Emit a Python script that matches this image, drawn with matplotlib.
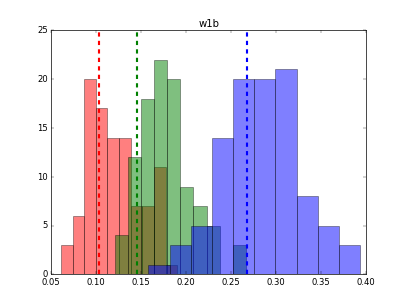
import numpy as np
import matplotlib
matplotlib.use("Agg")
import matplotlib.pyplot as plt

plt.style.use("classic")

# bin edges and counts (10 bins per group, 100 samples each)
red_edges = [0.0611, 0.0740, 0.0869, 0.0998, 0.1127, 0.1256, 0.1385, 0.1514, 0.1643, 0.1772, 0.1901]
red_counts = [3, 6, 20, 17, 14, 14, 7, 7, 11, 1]

green_edges = [0.1208, 0.1354, 0.1499, 0.1645, 0.1790, 0.1936, 0.2081, 0.2227, 0.2372, 0.2518, 0.2663]
green_counts = [4, 12, 18, 22, 20, 9, 7, 5, 0, 3]

blue_edges = [0.1582, 0.1817, 0.2052, 0.2287, 0.2522, 0.2757, 0.2992, 0.3227, 0.3462, 0.3697, 0.3932]
blue_counts = [1, 3, 5, 14, 20, 20, 21, 8, 5, 3]

# dashed reference lines
red_line = 0.1033
green_line = 0.1459
blue_line = 0.2681

fig = plt.figure(figsize=(8, 6), dpi=50.875)
ax = fig.add_subplot(111)

groups = [(red_edges, red_counts, "r", red_line),
          (green_edges, green_counts, "g", green_line),
          (blue_edges, blue_counts, "b", blue_line)]
for edges, counts, c, xline in groups:
    ax.hist(edges[:-1], bins=edges, weights=counts, color=c, alpha=0.5)
for edges, counts, c, xline in groups:
    ax.axvline(xline, color=c, linestyle="--", linewidth=3)

ax.set_xlim(0.05, 0.40)
ax.set_ylim(0, 25)
ax.set_xticks(np.arange(0.05, 0.401, 0.05))
ax.set_xticklabels(["0.05", "0.10", "0.15", "0.20", "0.25", "0.30", "0.35", "0.40"])
ax.set_title("w1b")

fig.savefig("out.png", dpi=50.875)
